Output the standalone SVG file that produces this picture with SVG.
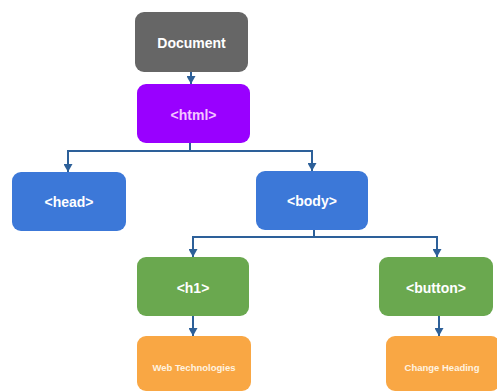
<svg xmlns="http://www.w3.org/2000/svg" width="497" height="391" viewBox="0 0 497 391">
<style>
.box{stroke:none}
.lbl{font-family:"Liberation Sans","DejaVu Sans",sans-serif;font-weight:bold;fill:#ffffff;text-anchor:middle;dominant-baseline:central}
.big{font-size:14px}
.small{font-size:9.5px;fill:#fff3e0}
.conn{fill:none;stroke:#2d6099;stroke-width:2}
</style>
<defs>
<marker id="arr" markerWidth="8" markerHeight="9" refX="8" refY="4.5" orient="auto" markerUnits="userSpaceOnUse">
<path d="M0,0 L8,4.5 L0,9 Z" fill="#2d6099"/>
</marker>
</defs>
<rect width="497" height="391" fill="#ffffff"/>
<g id="connectors">
<path class="conn" d="M191,72 V84" marker-end="url(#arr)"/>
<path class="conn" d="M190,143 V151 H68 V172" marker-end="url(#arr)"/>
<path class="conn" d="M190,151 H312 V171" marker-end="url(#arr)"/>
<path class="conn" d="M314,230 V237 H193 V257" marker-end="url(#arr)"/>
<path class="conn" d="M314,237 H437 V257" marker-end="url(#arr)"/>
<path class="conn" d="M193,316 V336" marker-end="url(#arr)"/>
<path class="conn" d="M439,316 V336" marker-end="url(#arr)"/>
</g>
<g id="document">
<rect class="box" x="135" y="12" width="113" height="60" rx="9" fill="#666666"/>
<text class="lbl big" x="191.5" y="43">Document</text>
</g>
<g id="html">
<rect class="box" x="137" y="84" width="113" height="59" rx="9" fill="#9900ff"/>
<text class="lbl big" x="193.5" y="115" fill="#f3c6ff" style="fill:#f3c6ff">&lt;html&gt;</text>
</g>
<g id="head">
<rect class="box" x="12" y="172" width="114" height="59" rx="9" fill="#3c78d8"/>
<text class="lbl big" x="69" y="202">&lt;head&gt;</text>
</g>
<g id="body">
<rect class="box" x="256" y="171" width="112" height="59" rx="9" fill="#3c78d8"/>
<text class="lbl big" x="312" y="201">&lt;body&gt;</text>
</g>
<g id="h1">
<rect class="box" x="137" y="257" width="112" height="59" rx="9" fill="#6aa84f"/>
<text class="lbl big" x="193" y="288">&lt;h1&gt;</text>
</g>
<g id="button">
<rect class="box" x="379" y="257" width="114" height="59" rx="9" fill="#6aa84f"/>
<text class="lbl big" x="436" y="288">&lt;button&gt;</text>
</g>
<g id="web-technologies">
<rect class="box" x="137" y="336" width="114" height="55" rx="9" fill="#f9a744"/>
<text class="lbl small" x="194" y="367">Web Technologies</text>
</g>
<g id="change-heading">
<rect class="box" x="386" y="336" width="114" height="55" rx="9" fill="#f9a744"/>
<text class="lbl small" x="442" y="367">Change Heading</text>
</g>
</svg>
